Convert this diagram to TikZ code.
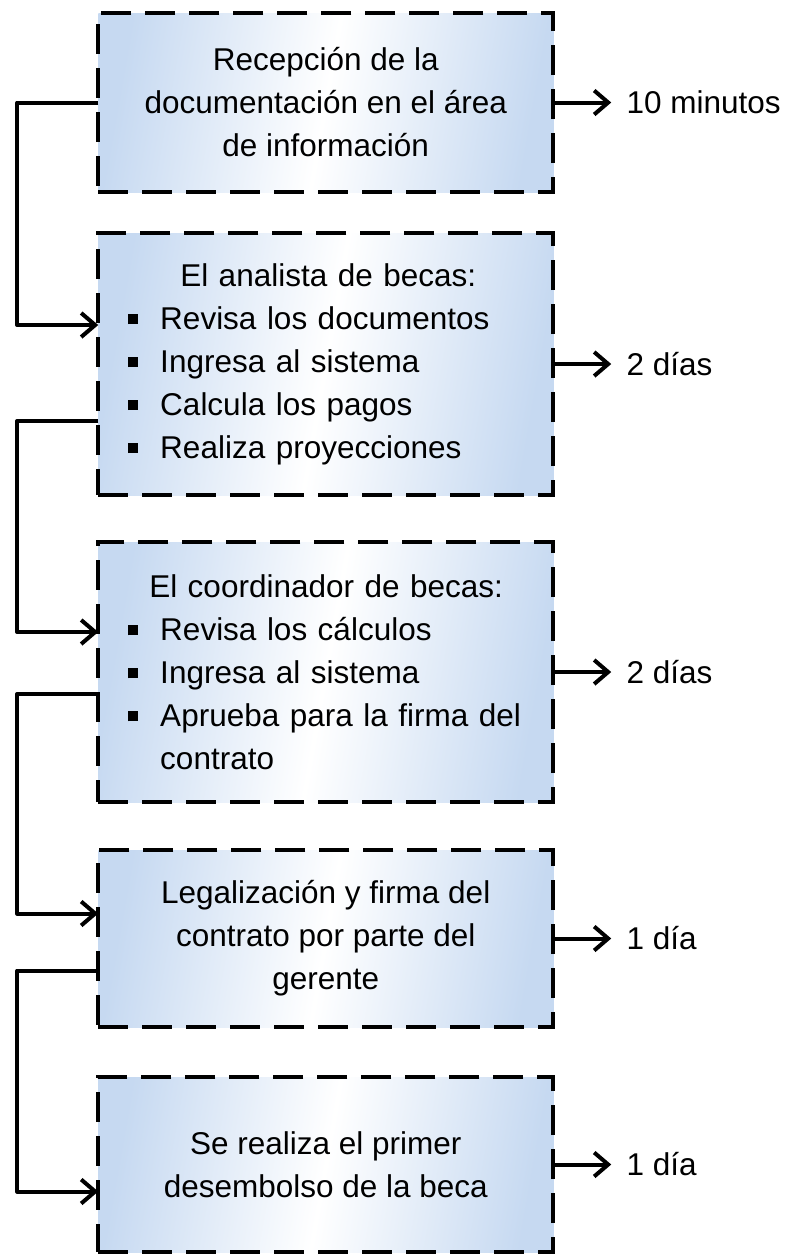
\documentclass[tikz,border=0pt]{standalone}
\usepackage{fontspec}
\setmainfont{Liberation Sans}
\usetikzlibrary{arrows.meta, positioning}

\definecolor{boxblue}{RGB}{198,217,241}
\newcommand{\itm}{\makebox[16pt][l]{\rule[2.5pt]{5pt}{5pt}}}

\begin{document}
\begin{tikzpicture}[
    node distance=23.25pt,
    font=\fontsize{15.75}{21.5}\selectfont,
    stagebox/.style={rectangle, draw=black, line width=2.2pt, dash pattern=on 15pt off 7pt, left color=boxblue, right color=boxblue, middle color=white, shading angle=80, minimum width=227.5pt, minimum height=88.5pt, align=center, inner sep=4pt, outer sep=0pt},
    tallbox/.style={stagebox, minimum height=130.5pt, text width=197.5pt, align=left},
    link/.style={-{Straight Barb[length=7pt,width=12pt]}, line width=2pt, line join=round},
    timelabel/.style={inner sep=0pt, right=36.5pt of #1}
]
    \useasboundingbox (0,0) rectangle (393pt,-627.5pt);

    \node[stagebox, minimum height=89.5pt] (b1) at (162.875pt,-51.25pt) {Recepción de la\\documentación en el área\\de información};
    \node[tallbox, minimum height=131pt, below=20.5pt of b1] (b2) {\hspace*{26pt}El analista de becas:\\
        \itm Revisa los documentos\\
        \itm Ingresa al sistema\\
        \itm Calcula los pagos\\
        \itm Realiza proyecciones};
    \node[tallbox, minimum height=130pt, below=23.5pt of b2] (b3) {\hspace*{10.5pt}El coordinador de becas:\\
        \itm Revisa los cálculos\\
        \itm Ingresa al sistema\\
        \itm Aprueba para la firma del\\
        \hspace*{16pt}contrato};
    \node[stagebox, below=24pt of b3] (b4) {Legalización y firma del\\contrato por parte del\\gerente};
    \node[stagebox, minimum height=87.5pt, below=25pt of b4] (b5) {Se realiza el primer\\desembolso de la beca};

    % tiempos
    \node[timelabel=b1] (t1) {10 minutos};
    \node[timelabel=b2] (t2) {2 días};
    \node[timelabel=b3] (t3) {2 días};
    \node[timelabel=b4] (t4) {1 día};
    \node[timelabel=b5] (t5) {1 día};

    \foreach \i in {1,...,5}
        \draw[link, shorten >=7.5pt] (b\i.east) -- (t\i.west);

    % flujo entre etapas
    \draw[link] (b1.west) -- ++(-40.5pt,0) |- ([yshift=19.5pt]b2.west);
    \draw[link] ([yshift=-28.5pt]b2.west) -- ++(-40.5pt,0) |- ([yshift=20pt]b3.west);
    \draw[link] ([yshift=-11pt]b3.west) -- ++(-40.5pt,0) |- ([yshift=12.5pt]b4.west);
    \draw[link] ([yshift=-16pt]b4.west) -- ++(-40.5pt,0) |- ([yshift=-13.5pt]b5.west);
\end{tikzpicture}
\end{document}
